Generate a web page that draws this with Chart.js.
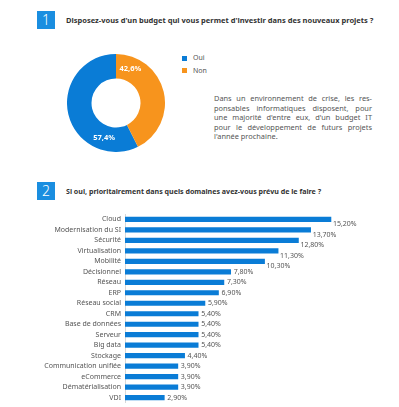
<!DOCTYPE html>
<html>
<head>
<meta charset="utf-8">
<script src="https://cdn.jsdelivr.net/npm/chart.js@4.4.0/dist/chart.umd.min.js"></script>
<style>
  body { margin: 0; width: 399px; height: 407px; background: #fff; position: relative; overflow: hidden;
         font-family: "Noto Sans", sans-serif; color: #555; }
  .num { position: absolute; left: 37px; width: 18px; height: 18px; background: #1a8ee0; color: #fff;
         font-size: 14px; line-height: 18px; text-align: center; font-weight: 300; }
  .title { position: absolute; left: 66px; font-size: 7.5px; font-weight: bold; color: #333; white-space: nowrap; }
  .legend { position: absolute; left: 182px; font-size: 7px; color: #555; }
  .legend div { height: 12.5px; line-height: 12.5px; }
  .legend span { display: inline-block; width: 5px; height: 5px; margin-right: 6px; vertical-align: -0.5px; }
  .para { position: absolute; left: 214px; top: 94px; width: 158px; font-size: 7.4px; line-height: 9.6px; color: #555; }
  .para div { text-align: justify; text-align-last: justify; white-space: nowrap; }
  .para div.last { text-align-last: left; }
  canvas { position: absolute; }
</style>
</head>
<body>
<div class="num" style="top:11px">1</div>
<div class="title" style="top:15px">Disposez-vous d'un budget qui vous permet d'investir dans des nouveaux projets ?</div>
<div class="legend" style="top:52px" id="legend"></div>
<div class="para">
  <div>Dans un environnement de crise, les res-</div>
  <div>ponsables informatiques disposent, pour</div>
  <div>une majorité d'entre eux, d'un budget IT</div>
  <div>pour le développement de futurs projets</div>
  <div class="last">l'année prochaine.</div>
</div>

<div class="num" style="top:182px">2</div>
<div class="title" style="top:186px;font-size:7.1px">Si oui, prioritairement dans quels domaines avez-vous prévu de le faire ?</div>

<div style="position:absolute;left:67px;top:54px;width:98px;height:98px"><canvas id="donut"></canvas></div>
<div style="position:absolute;left:0;top:206px;width:399px;height:205px"><canvas id="bars"></canvas></div>

<script>
// Question 1
const budgetLabels = ['Oui', 'Non'];
const budgetValues = [57.4, 42.6];
const budgetColors = ['#0a7cd6', '#f7941d'];

// Question 2
const domainLabels = ['Cloud', 'Modernisation du SI', 'Sécurité', 'Virtualisation', 'Mobilité', 'Décisionnel',
    'Réseau', 'ERP', 'Réseau social', 'CRM', 'Base de données', 'Serveur', 'Big data', 'Stockage',
    'Communication unifiée', 'eCommerce', 'Dématérialisation', 'VDI'];
const domainValues = [15.2, 13.7, 12.8, 11.3, 10.3, 7.8, 7.3, 6.9, 5.9, 5.4, 5.4, 5.4, 5.4, 4.4, 3.9, 3.9, 3.9, 2.9];

function fmt(v, d) {
    return v.toFixed(d).replace('.', ',') + '%';
}

// Build legend
const legend = document.getElementById('legend');
budgetLabels.forEach((l, i) => {
    const row = document.createElement('div');
    row.innerHTML = `<span style="background:${budgetColors[i]}"></span>${l}`;
    legend.appendChild(row);
});

// Labels inside the donut ring
const donutLabels = {
    id: 'donutLabels',
    afterDatasetsDraw(chart) {
        const ctx = chart.ctx;
        const frac = [0.22, 0.15];
        ctx.save();
        ctx.fillStyle = '#fff';
        ctx.font = 'bold 7.5px "Noto Sans"';
        ctx.textAlign = 'center';
        ctx.textBaseline = 'middle';
        chart.getDatasetMeta(0).data.forEach((arc, i) => {
            const a = arc.startAngle + frac[i] * (arc.endAngle - arc.startAngle);
            const r = (arc.innerRadius + arc.outerRadius) / 2;
            ctx.fillText(fmt(budgetValues[i], 1), arc.x + r * Math.cos(a), arc.y + r * Math.sin(a));
        });
        ctx.restore();
    }
};

new Chart(document.getElementById('donut'), {
    type: 'doughnut',
    data: {
        labels: budgetLabels,
        datasets: [{ data: budgetValues, backgroundColor: budgetColors, borderWidth: 0 }]
    },
    options: {
        responsive: true,
        maintainAspectRatio: false,
        animation: false,
        cutout: '50%',
        rotation: 153.36,
        plugins: { legend: { display: false }, tooltip: { enabled: false } }
    },
    plugins: [donutLabels]
});

// Value labels at the end of each bar
const barLabels = {
    id: 'barLabels',
    afterDatasetsDraw(chart) {
        const ctx = chart.ctx;
        ctx.save();
        ctx.fillStyle = '#555';
        ctx.font = '7px "Noto Sans"';
        ctx.textBaseline = 'middle';
        chart.getDatasetMeta(0).data.forEach((bar, i) => {
            const v = domainValues[i];
            const big = v >= 10;
            ctx.fillText(fmt(v, 2), bar.x + (big ? 2 : 3), bar.y + (big ? 4.7 : 0));
        });
        ctx.restore();
    }
};

new Chart(document.getElementById('bars'), {
    type: 'bar',
    data: {
        labels: domainLabels,
        datasets: [{ data: domainValues, backgroundColor: '#0a7cd6', barThickness: 4.5 }]
    },
    options: {
        indexAxis: 'y',
        responsive: true,
        maintainAspectRatio: false,
        animation: false,
        layout: { padding: { left: 0, right: 3, top: 0, bottom: 0 } },
        scales: {
            x: { display: false, min: 0, max: 20 },
            y: {
                afterFit(scale) { scale.width = 125; },
                grid: { display: false, drawTicks: false },
                border: { display: true, color: '#d8d8d8', width: 1 },
                ticks: { autoSkip: false, color: '#555', font: { family: 'Noto Sans', size: 7 }, padding: 4 }
            }
        },
        plugins: { legend: { display: false }, tooltip: { enabled: false } }
    },
    plugins: [barLabels]
});
</script>
</body>
</html>
